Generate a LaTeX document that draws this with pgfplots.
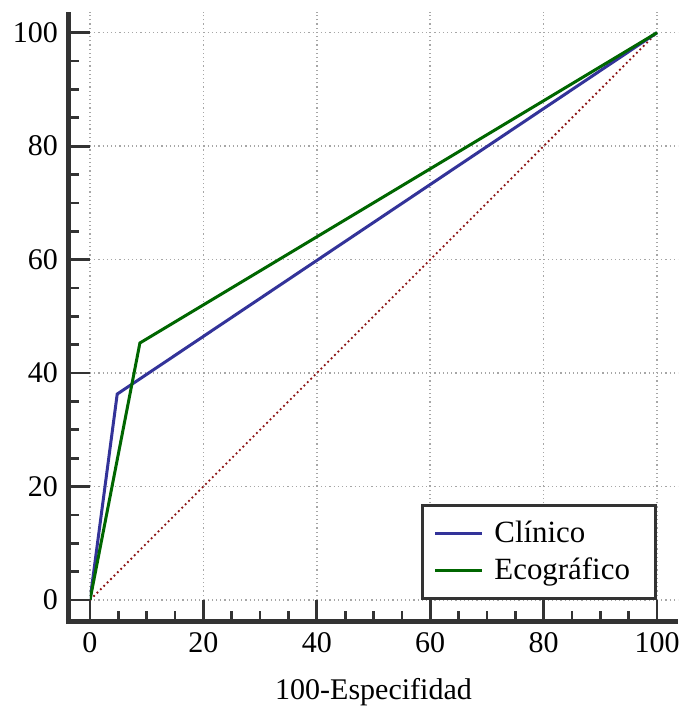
\documentclass[border=0pt]{standalone}
\usepackage{fontspec}
\setmainfont{Liberation Serif}
\usepackage{pgfplots}
\pgfplotsset{compat=1.18}

\definecolor{clin}{RGB}{51,51,153}
\definecolor{eco}{RGB}{0,102,0}
\definecolor{diag}{RGB}{140,20,20}
\definecolor{axisgray}{RGB}{51,51,51}

\begin{document}
\fontsize{10}{12}\selectfont
\begin{tikzpicture}
\useasboundingbox (-30pt,-36pt) rectangle (198pt,200pt);
\begin{axis}[
  at={(0pt,0pt)}, anchor=south west,
  scale only axis,
  width=196pt, height=196.1pt,
  xmin=0, xmax=103.7,
  ymin=0, ymax=103.7,
  axis lines*=left,
  axis line shift=7.2pt,
  axis line style={draw=axisgray, line width=1.7pt, shorten <=-8.05pt},
  xtick={0,20,...,100}, ytick={0,20,...,100},
  minor tick num=3,
  tick align=inside,
  major tick length=7.2pt,
  minor tick length=3.5pt,
  tick style={draw=axisgray, line width=0.9pt},
  grid=major,
  grid style={draw=gray!70, densely dotted, line width=0.5pt},
  /pgf/number format/assume math mode=true,
  tick label style={font=\fontsize{10}{12}\selectfont},
  xlabel={100-Especifidad},
  x label style={at={(axis cs:50,0)}, anchor=base, yshift=-33.3pt, inner sep=0pt},
  legend style={at={(axis cs:100,0)}, anchor=south east, draw=axisgray,
    line width=1pt, font=\fontsize{10.3}{12}\selectfont,
    inner xsep=3.7pt, inner ysep=3pt, row sep=-0.5pt},
  legend cell align=left,
  legend image code/.code={\draw[#1] (0pt,0pt) -- (15.5pt,0pt);},
]
\addplot[diag, densely dotted, line width=0.6pt, forget plot] coordinates {(0,0) (100,100)};
\addplot[clin, line width=1pt] coordinates {(0,0) (4.8,36.3) (100,100)};
\addplot[eco, line width=1pt] coordinates {(0,0) (8.8,45.3) (100,100)};
\legend{\hspace{1.7pt}\makebox[48pt][l]{Clínico}, \hspace{1.7pt}\makebox[48pt][l]{Ecográfico}}
\end{axis}
\end{tikzpicture}
\end{document}
